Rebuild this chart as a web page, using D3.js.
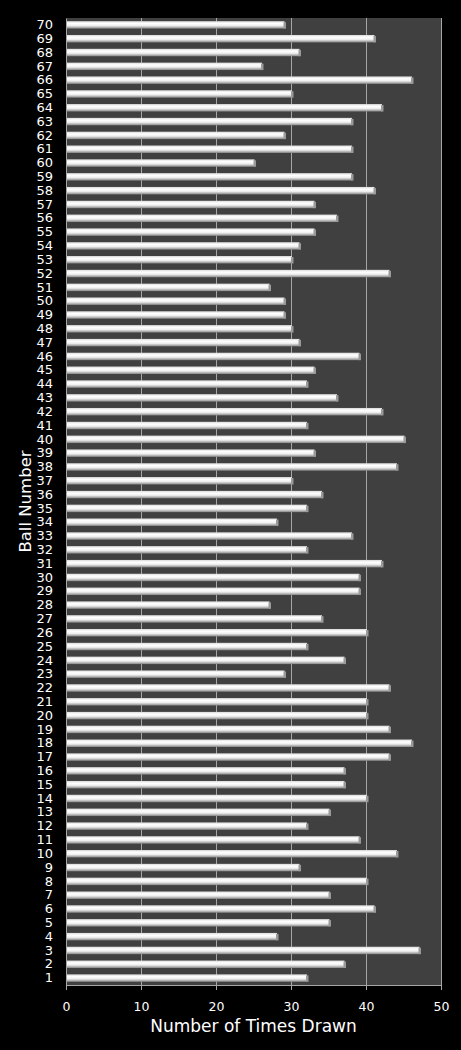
<!DOCTYPE html>
<html>
<head>
<meta charset="utf-8">
<script src="https://cdn.jsdelivr.net/npm/d3@7"></script>
<style>
  html, body { margin: 0; padding: 0; background: #000; }
  svg { display: block; }
  .tick text { fill: #fff; font-family: "DejaVu Sans", Verdana, sans-serif; }
</style>
</head>
<body>
<div class="chart"></div>
<script>
// --- data
const balls = d3.range(1, 71);
const timesDrawn = [
  32, 37, 47, 28, 35, 41, 35, 40, 31, 44,
  39, 32, 35, 40, 37, 37, 43, 46, 43, 40,
  40, 43, 29, 37, 32, 40, 34, 27, 39, 39,
  42, 32, 38, 28, 32, 34, 30, 44, 33, 45,
  32, 42, 36, 32, 33, 39, 31, 30, 29, 29,
  27, 43, 30, 31, 33, 36, 33, 41, 38, 25,
  38, 29, 38, 42, 30, 46, 26, 31, 41, 29
];
const xTicks = [0, 10, 20, 30, 40, 50];

const width = 461, height = 1050;
const margin = { top: 18, right: 20, bottom: 65, left: 66 };

const svg = d3.select(".chart").append("svg")
  .attr("width", width)
  .attr("height", height)
  .style("background", "#000");

const x = d3.scaleLinear()
  .domain([0, 50])
  .range([margin.left, width - margin.right]);

const y = d3.scaleBand()
  .domain(balls.slice().reverse())
  .range([margin.top, height - margin.bottom])
  .paddingInner(0.46)
  .paddingOuter(0.23);

// bar gradient
const defs = svg.append("defs");
const grad = defs.append("linearGradient")
  .attr("id", "barfill")
  .attr("x1", 0).attr("y1", 0).attr("x2", 0).attr("y2", 1);
grad.append("stop").attr("offset", "0%").attr("stop-color", "#d9d9d9");
grad.append("stop").attr("offset", "30%").attr("stop-color", "#ffffff");
grad.append("stop").attr("offset", "60%").attr("stop-color", "#eeeeee");
grad.append("stop").attr("offset", "100%").attr("stop-color", "#858585");

// plot area
svg.append("rect")
  .attr("x", x(0))
  .attr("y", margin.top)
  .attr("width", x(50) - x(0))
  .attr("height", height - margin.bottom - margin.top)
  .attr("fill", "#404040");

// gridlines
svg.append("g")
  .selectAll("line")
  .data(xTicks.slice(1))
  .enter().append("line")
  .attr("x1", d => x(d) + 0.5)
  .attr("x2", d => x(d) + 0.5)
  .attr("y1", margin.top)
  .attr("y2", height - margin.bottom)
  .attr("stroke", "#a6a6a6")
  .attr("stroke-width", 1);

// bars
const bars = svg.append("g");
bars.selectAll("rect.bar")
  .data(balls)
  .enter().append("rect")
  .attr("class", "bar")
  .attr("x", x(0) + 1)
  .attr("y", d => y(d))
  .attr("width", d => x(timesDrawn[d - 1]) - x(0))
  .attr("height", y.bandwidth())
  .attr("fill", "url(#barfill)");

// bevelled end cap
bars.selectAll("rect.cap")
  .data(balls)
  .enter().append("rect")
  .attr("class", "cap")
  .attr("x", d => x(timesDrawn[d - 1]))
  .attr("y", d => y(d) + 1)
  .attr("width", 2.5)
  .attr("height", y.bandwidth() - 1)
  .attr("fill", "#9a9a9a");

// x axis
const xAxis = svg.append("g")
  .attr("transform", `translate(0,${height - margin.bottom})`)
  .call(d3.axisBottom(x).tickValues(xTicks).tickSize(5).tickPadding(12));
xAxis.select(".domain").attr("stroke", "#a6a6a6");
xAxis.selectAll(".tick line").attr("stroke", "#a6a6a6");
xAxis.selectAll(".tick text").attr("font-size", "12.5px");

// y axis
const yAxis = svg.append("g")
  .attr("transform", `translate(${margin.left},0)`)
  .call(d3.axisLeft(y).tickSize(0).tickPadding(13));
yAxis.select(".domain").attr("stroke", "#a6a6a6");
yAxis.selectAll(".tick text").attr("font-size", "13px");

// titles
svg.append("text")
  .attr("x", (x(0) + x(50)) / 2)
  .attr("y", 1032)
  .attr("text-anchor", "middle")
  .attr("fill", "#fff")
  .attr("font-family", "DejaVu Sans, Verdana, sans-serif")
  .attr("font-size", "17px")
  .text("Number of Times Drawn");

svg.append("text")
  .attr("transform", `translate(31,${(margin.top + height - margin.bottom) / 2}) rotate(-90)`)
  .attr("text-anchor", "middle")
  .attr("fill", "#fff")
  .attr("font-family", "DejaVu Sans, Verdana, sans-serif")
  .attr("font-size", "16.5px")
  .text("Ball Number");
</script>
</body>
</html>
